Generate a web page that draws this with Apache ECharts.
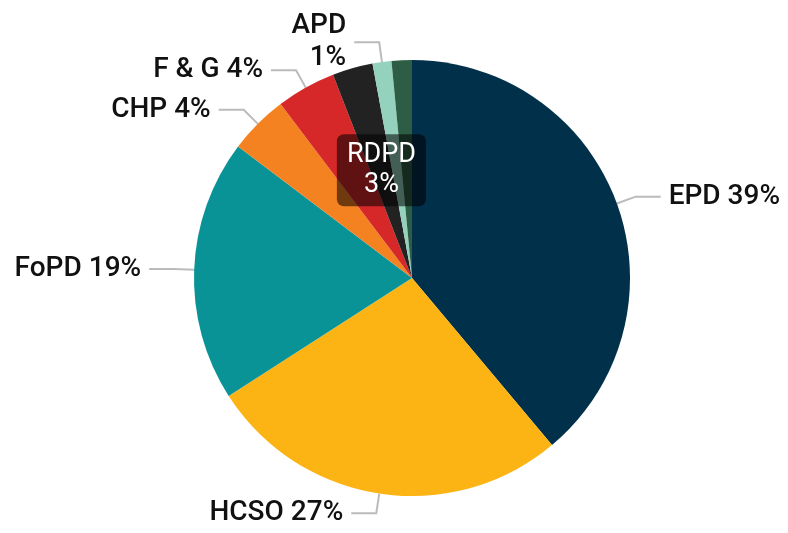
<!DOCTYPE html>
<html>
<head>
<meta charset="utf-8">
<script src="https://cdn.jsdelivr.net/npm/echarts@6/dist/echarts.min.js"></script>
<style>
  html, body { margin: 0; padding: 0; background: #fff; }
  #chart { width: 788px; height: 533px; }
</style>
</head>
<body>
<div id="chart"></div>
<script>
const categories = ['EPD', 'HCSO', 'FoPD', 'CHP', 'F & G', 'RDPD', 'APD', 'Other']
const values = [38.9, 27, 19.4, 4.4, 4.4, 3, 1.4, 1.5]
const colors = ['#00304a', '#fcb415', '#0a9396', '#f58220', '#d62828', '#222222', '#94d2bd', '#2d5e45']

const chart = echarts.init(document.getElementById('chart'))

const pieData = categories.map(function(name, i) {
  const item = { name: name, value: values[i], itemStyle: { color: colors[i] } }
  if (name === 'RDPD') {
    item.label = {
      position: 'inside',
      formatter: function(p) { return p.name + '\n' + Math.round(p.value) + '%' },
      color: '#fff',
      fontSize: 27,
      lineHeight: 30,
      fontWeight: 400,
      backgroundColor: 'rgba(0,0,0,0.55)',
      borderRadius: 7,
      padding: [6, 10]
    }
  }
  if (name === 'APD') {
    item.label = { formatter: function(p) { return p.name + '\n' + Math.round(p.value) + '%' }, align: 'right' }
  }
  if (name === 'Other') {
    item.label = { show: false }
    item.labelLine = { show: false }
  }
  return item
})

const option = {
  animation: false,
  series: [
    {
      type: 'pie',
      center: [412, 278],
      radius: 218,
      startAngle: 90,
      clockwise: true,
      avoidLabelOverlap: false,
      label: {
        show: true,
        position: 'outside',
        distanceToLabelLine: 8,
        fontFamily: 'Roboto',
        fontSize: 28,
        fontWeight: 500,
        lineHeight: 32,
        color: '#111',
        formatter: function(p) {
          return p.name + ' ' + Math.round(p.value) + '%'
        }
      },
      labelLine: {
        show: true,
        length: 20,
        length2: 25,
        lineStyle: { color: '#bbbbbb', width: 2 }
      },
      data: pieData
    }
  ]
}

chart.setOption(option)
</script>
</body>
</html>
